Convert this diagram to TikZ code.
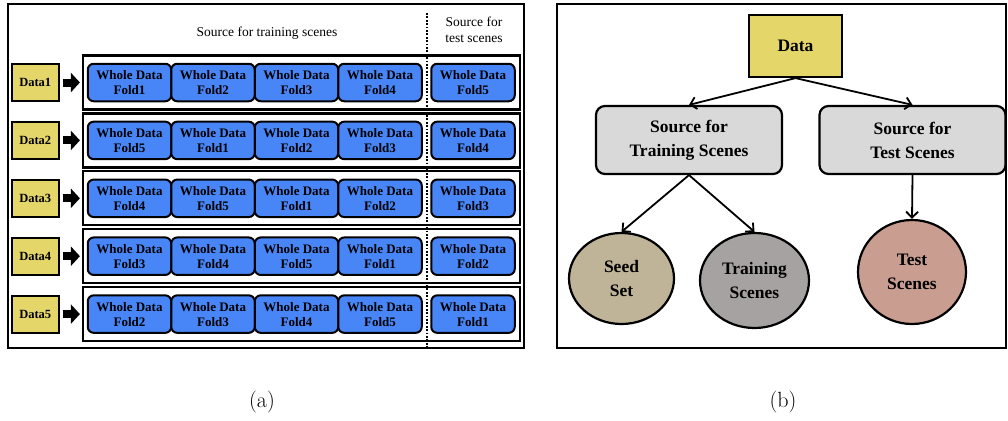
\documentclass[tikz,border=0pt]{standalone}
\usepackage{fontspec}
\newfontfamily\lib{Liberation Serif}
\usetikzlibrary{arrows.meta,shapes.geometric}

\definecolor{datayellow}{RGB}{229,214,106}
\definecolor{foldblue}{RGB}{72,134,248}
\definecolor{srcgrey}{RGB}{217,217,217}
\definecolor{seedtan}{RGB}{191,180,152}
\definecolor{traingrey}{RGB}{166,162,162}
\definecolor{testrose}{RGB}{201,158,145}

\tikzset{
  panel/.style={draw, line width=1.8pt},
  rowframe/.style={draw, line width=2.2pt, minimum width=437pt, minimum height=54pt, inner sep=0pt},
  fold/.style={draw, line width=2pt, fill=foldblue, rounded corners=6pt,
    minimum width=83.5pt, minimum height=37.5pt, inner sep=0pt, align=center,
    font=\lib\bfseries\fontsize{13}{15}\selectfont},
  datalab/.style={draw, line width=2pt, fill=datayellow, minimum width=46.5pt,
    minimum height=37pt, inner sep=0pt, font=\lib\bfseries\fontsize{12.5}{15}\selectfont},
  fatarrow/.style={line width=8pt, -{Triangle[length=9pt,width=19pt]},
    shorten <=3pt, shorten >=2pt},
  title/.style={align=center, font=\lib\fontsize{13.5}{15.5}\selectfont},
  bigbox/.style={draw, line width=2.2pt, align=center, inner sep=0pt,
    font=\lib\bfseries\fontsize{17.5}{24}\selectfont},
  srcbox/.style={bigbox, fill=srcgrey, rounded corners=9pt,
    minimum width=186pt, minimum height=68pt},
  blob/.style={bigbox, ellipse},
  flow/.style={line width=1.8pt, -{Straight Barb[length=6pt,width=12pt]}},
  caption/.style={font=\fontsize{22}{26}\selectfont}
}

\begin{document}
\begin{tikzpicture}[x=1pt,y=-1pt]
\useasboundingbox (0,0) rectangle (1008,420);

% ---------- panel (a): fold assignment per data split ----------
\draw[panel] (8,4) rectangle (524,348);
\node[title] (trtitle) at (267,33) {Source for training scenes};
\node[title] (tetitle) at (474,30) {Source for\\test scenes};
\coordinate (divtop) at (427,13);
\coordinate (divbot) at (427,348);

\foreach \r/\a/\b/\c/\d/\e in {1/1/2/3/4/5, 2/5/1/2/3/4, 3/4/5/1/2/3, 4/3/4/5/1/2, 5/2/3/4/5/1}{
  \pgfmathsetmacro{\yy}{82.5+(\r-1)*57.9}
  \node[rowframe] (row\r) at (301.5,\yy) {};
  \node[datalab] (data\r) at (35.25,\yy) {Data\r};
  \draw[fatarrow] (data\r) -- (row\r);
  \node[fold] (f\r a) at (129.5,\yy) {Whole Data\\Fold\a};
  \node[fold] (f\r b) at (213,\yy)   {Whole Data\\Fold\b};
  \node[fold] (f\r c) at (296.5,\yy) {Whole Data\\Fold\c};
  \node[fold] (f\r d) at (380,\yy)   {Whole Data\\Fold\d};
  \node[fold] (f\r e) at (473,\yy)   {Whole Data\\Fold\e};
}
\draw[line width=2pt, dash pattern=on 1.8pt off 1.6pt] (divtop) -- (divbot);

\node[caption] (capa) at (262,402) {(a)};

% ---------- panel (b): how the data is split ----------
\draw[panel] (557,4) rectangle (1006,348);
\node[bigbox, fill=datayellow, minimum width=93pt, minimum height=62pt] (data) at (795.5,46) {Data};
\node[srcbox] (srctrain) at (689,140) {Source for\\Training Scenes};
\node[srcbox] (srctest) at (912.5,140) {Source for\\Test Scenes};
\node[blob, fill=seedtan, minimum width=105pt, minimum height=91pt] (seed) at (621.5,278.5) {Seed\\Set};
\node[blob, fill=traingrey, minimum width=109pt, minimum height=95pt] (train) at (754.5,280.5) {Training\\Scenes};
\node[blob, fill=testrose, minimum width=108pt, minimum height=104pt] (test) at (912,272) {Test\\Scenes};

\draw[flow] (data.south) -- (srctrain.north);
\draw[flow] (data.south) -- (srctest.north);
\draw[flow] (srctrain.south) -- (seed.north);
\draw[flow] (srctrain.south) -- (train.north);
\draw[flow] (srctest.south) -- (test.north);

\node[caption] (capb) at (783,402) {(b)};
\end{tikzpicture}
\end{document}
